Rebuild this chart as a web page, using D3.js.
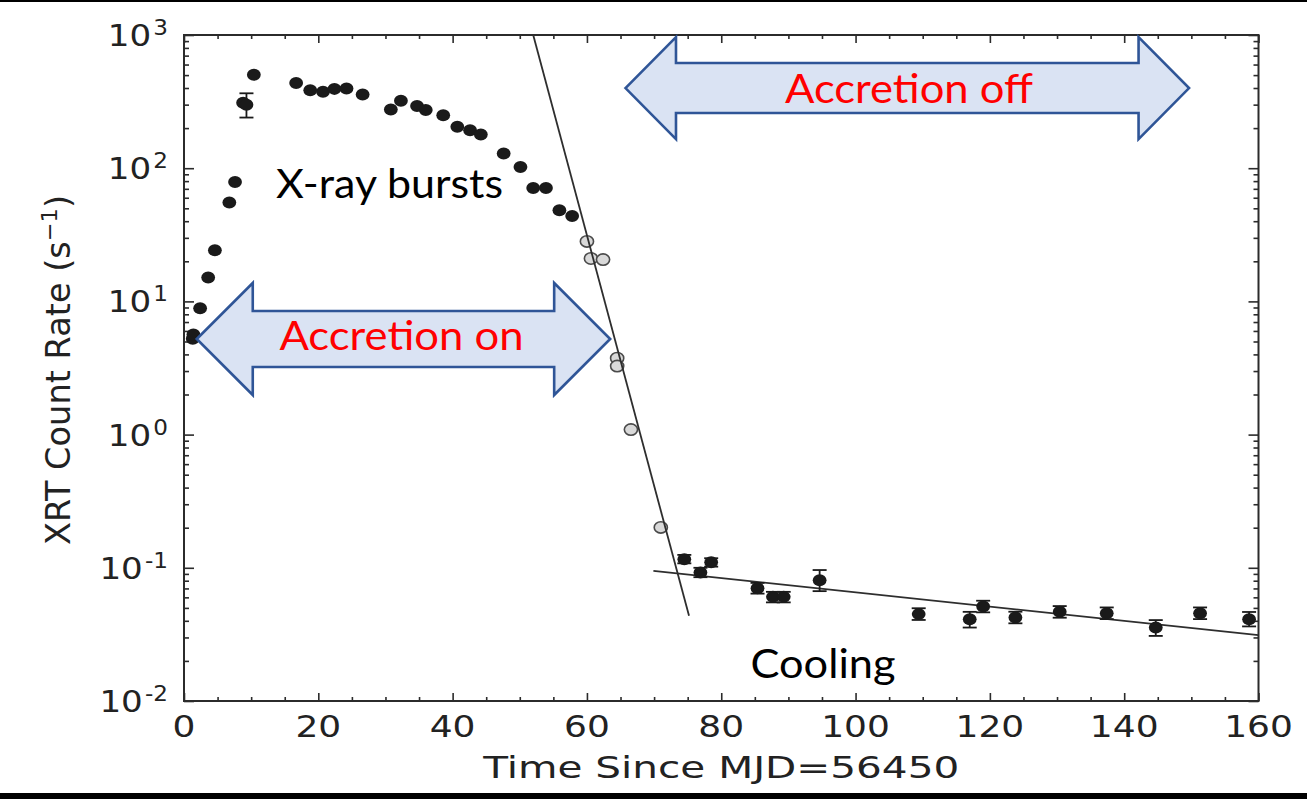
<!DOCTYPE html>
<html>
<head>
<meta charset="utf-8">
<script src="https://cdn.jsdelivr.net/npm/d3@7"></script>
<style>
  body { margin: 0; background: #fff; }
  svg { display: block; }
</style>
</head>
<body>
<svg id="chart" width="1307" height="799"></svg>
<script>
// ---- Swift/XRT light curve (count rate vs. days since MJD 56450) ----

// outburst, accretion phase (filled markers)
const burstTime = [1.3, 1.4, 2.4, 3.6, 4.6, 6.75, 7.6, 8.8, 9.3, 10.4, 16.7, 18.8, 20.7, 22.4, 24.2, 26.6,
                   30.8, 32.3, 34.7, 36.0, 38.6, 40.7, 42.6, 44.2, 47.6, 50.1, 52.0, 53.9, 55.9, 57.8];
const burstRate = [5.25, 5.65, 8.9, 15.1, 24.2, 55.2, 78.9, 310, 300, 503, 437, 385, 375, 394, 397, 358,
                   276, 321, 293, 273, 250, 205, 193, 179, 129, 102, 71.1, 71.1, 48.3, 43.8];
const burstErrLo = [null, null, null, null, null, null, null, null, 240, null, null, null, null, null, null, null,
                    null, null, null, null, null, null, null, null, null, null, null, null, null, null];
const burstErrHi = [null, null, null, null, null, null, null, null, 365, null, null, null, null, null, null, null,
                    null, null, null, null, null, null, null, null, null, null, null, null, null, null];

// rapid decay (open markers)
const decayTime = [60.0, 60.6, 62.4, 64.5, 64.5, 66.55, 71.0];
const decayRate = [28.2, 21.0, 20.6, 3.75, 3.27, 1.09, 0.201];

// quiescent cooling tail (filled markers with error bars)
const coolTime  = [74.5, 76.9, 78.5, 85.4, 87.7, 89.3, 94.65, 109.4, 117.0, 119.0, 123.8, 130.4, 137.4, 144.7, 151.3, 158.6];
const coolRate  = [0.116, 0.0923, 0.110, 0.0703, 0.0605, 0.0605, 0.0807, 0.0449, 0.0411, 0.0512, 0.0423, 0.0467, 0.0456, 0.0356, 0.0456, 0.0411];
const coolErrLo = [0.108, 0.085, 0.102, 0.064, 0.055, 0.055, 0.0668, 0.0406, 0.0356, 0.0463, 0.0383, 0.0422, 0.0412, 0.0308, 0.0412, 0.0363];
const coolErrHi = [0.125, 0.100, 0.118, 0.077, 0.066, 0.066, 0.0962, 0.0497, 0.0467, 0.0566, 0.0468, 0.0516, 0.0504, 0.0405, 0.0504, 0.0466];

// exponential fits (straight lines in log space)
const decayFitTime = [52.0, 75.2];
const decayFitRate = [1000, 0.0436];
const coolFitTime  = [69.9, 160];
const coolFitRate  = [0.0948, 0.0312];

// axes
const xDomain = [0, 160];
const yDomain = [0.01, 1000];
const xMajorTicks = [0, 20, 40, 60, 80, 100, 120, 140, 160];
const yDecadeExponents = [-2, -1, 0, 1, 2, 3];

// annotation arrows: [start day, end day, rate at centre line]
const accretionOn  = { label: "Accretion on",  t0: 1.9,  t1: 63.46, rate: 5.22 };
const accretionOff = { label: "Accretion off", t0: 65.74, t1: 149.66, rate: 399.6 };

// ------------------------------------------------------------------
const svg = d3.select("#chart");
const W = 1307, H = 799;
const plot = { left: 184, right: 1258.5, top: 35, bottom: 701 };

const x = d3.scaleLinear().domain(xDomain).range([plot.left, plot.right]);
const y = d3.scaleLog().domain(yDomain).range([plot.bottom, plot.top]);

const axisColor = "#2b2b2b";
const tickFont = "'DejaVu Sans', 'Bitstream Vera Sans', sans-serif";
const noteFont = "Lato, 'Open Sans', sans-serif";

svg.append("rect").attr("width", W).attr("height", H).attr("fill", "#fff");

// page rules at top and bottom
svg.append("rect").attr("x", 0).attr("y", 0).attr("width", W).attr("height", 2).attr("fill", "#000");
svg.append("rect").attr("x", 0).attr("y", 793).attr("width", W).attr("height", 6).attr("fill", "#000");

// ---- ticks (inward, on all four sides) ----
const xMinor = d3.range(0, 161, 5).filter(v => v % 20 !== 0);
const yMinor = [];
yDecadeExponents.slice(0, -1).forEach(e => { for (let k = 2; k <= 9; k++) yMinor.push(k * Math.pow(10, e)); });
const yMajor = yDecadeExponents.map(e => Math.pow(10, e));

function noLabels(a) { return a.tickFormat(() => "").tickPadding(0); }

const axes = svg.append("g").attr("class", "axes");
axes.append("g").attr("transform", `translate(0,${plot.bottom})`).call(noLabels(d3.axisBottom(x).tickValues(xMinor).tickSize(-4)));
axes.append("g").attr("transform", `translate(0,${plot.bottom})`).call(noLabels(d3.axisBottom(x).tickValues(xMajorTicks).tickSize(-8)));
axes.append("g").attr("transform", `translate(0,${plot.top})`).call(noLabels(d3.axisTop(x).tickValues(xMinor).tickSize(-4)));
axes.append("g").attr("transform", `translate(0,${plot.top})`).call(noLabels(d3.axisTop(x).tickValues(xMajorTicks).tickSize(-8)));
axes.append("g").attr("transform", `translate(${plot.left},0)`).call(noLabels(d3.axisLeft(y).tickValues(yMinor).tickSize(-5)));
axes.append("g").attr("transform", `translate(${plot.left},0)`).call(noLabels(d3.axisLeft(y).tickValues(yMajor).tickSize(-10)));
axes.append("g").attr("transform", `translate(${plot.right},0)`).call(noLabels(d3.axisRight(y).tickValues(yMinor).tickSize(-5)));
axes.append("g").attr("transform", `translate(${plot.right},0)`).call(noLabels(d3.axisRight(y).tickValues(yMajor).tickSize(-10)));
axes.selectAll(".domain").remove();
axes.selectAll(".tick line").attr("stroke", axisColor).attr("stroke-width", 1.6);

// frame
svg.append("rect")
  .attr("x", plot.left).attr("y", plot.top)
  .attr("width", plot.right - plot.left).attr("height", plot.bottom - plot.top)
  .attr("fill", "none").attr("stroke", axisColor).attr("stroke-width", 2);

// x tick labels
svg.append("g").selectAll("text").data(xMajorTicks).join("text")
  .attr("transform", d => `translate(${x(d)},737) scale(1.2,1)`)
  .attr("text-anchor", "middle")
  .attr("font-family", tickFont).attr("font-size", 30).attr("fill", "#222")
  .text(d => d);

// y tick labels: 10^n
const yl = svg.append("g").selectAll("text").data(yDecadeExponents).join("text")
  .attr("transform", d => `translate(168,${y(Math.pow(10, d)) + 11}) scale(1.1,1)`)
  .attr("text-anchor", "end")
  .attr("font-family", tickFont).attr("font-size", 31).attr("fill", "#222");
yl.append("tspan").text("10");
yl.append("tspan").attr("dy", -11).attr("dx", 2).attr("font-size", 21).text(d => d);

// axis titles
svg.append("text")
  .attr("x", (plot.left + plot.right) / 2).attr("y", 778)
  .attr("text-anchor", "middle")
  .attr("font-family", tickFont).attr("font-size", 31).attr("fill", "#222")
  .attr("textLength", 476).attr("lengthAdjust", "spacingAndGlyphs")
  .text("Time Since MJD=56450");

const yt = svg.append("text")
  .attr("transform", "translate(70,370) rotate(-90)")
  .attr("text-anchor", "middle")
  .attr("font-family", tickFont).attr("font-size", 33).attr("fill", "#222")
  .attr("textLength", 350).attr("lengthAdjust", "spacingAndGlyphs");
yt.append("tspan").text("XRT Count Rate (s");
yt.append("tspan").attr("dy", -13).attr("font-size", 22).text("\u22121");
yt.append("tspan").attr("dy", 13).text(")");

// ---- fits ----
const line = d3.line().x(d => x(d[0])).y(d => y(d[1]));
const decayFit = decayFitTime.map((t, i) => [t, decayFitRate[i]]);
const coolFit  = coolFitTime.map((t, i) => [t, coolFitRate[i]]);

// ---- data ----
const burst = burstTime.map((t, i) => ({ t, r: burstRate[i], lo: burstErrLo[i], hi: burstErrHi[i] }));
const decay = decayTime.map((t, i) => ({ t, r: decayRate[i] }));
const cool  = coolTime.map((t, i) => ({ t, r: coolRate[i], lo: coolErrLo[i], hi: coolErrHi[i] }));

// open markers first, so the fit line shows through them
svg.append("g").selectAll("ellipse").data(decay).join("ellipse")
  .attr("cx", d => x(d.t)).attr("cy", d => y(d.r))
  .attr("rx", 6.6).attr("ry", 5.7)
  .attr("fill", "#d9d9d9").attr("stroke", "#4a4a4a").attr("stroke-width", 1.6);

svg.append("g").selectAll("path").data([decayFit, coolFit]).join("path")
  .attr("d", line).attr("fill", "none").attr("stroke", "#2e2e2e").attr("stroke-width", 1.8);

// error bars
const withErr = burst.filter(d => d.lo != null).concat(cool);
const eb = svg.append("g").attr("stroke", "#1a1a1a").attr("stroke-width", 1.8);
eb.selectAll("line.v").data(withErr).join("line").attr("class", "v")
  .attr("x1", d => x(d.t)).attr("x2", d => x(d.t))
  .attr("y1", d => y(d.lo)).attr("y2", d => y(d.hi));
eb.selectAll("line.lo").data(withErr).join("line").attr("class", "lo")
  .attr("x1", d => x(d.t) - 7).attr("x2", d => x(d.t) + 7)
  .attr("y1", d => y(d.lo)).attr("y2", d => y(d.lo));
eb.selectAll("line.hi").data(withErr).join("line").attr("class", "hi")
  .attr("x1", d => x(d.t) - 7).attr("x2", d => x(d.t) + 7)
  .attr("y1", d => y(d.hi)).attr("y2", d => y(d.hi));

// filled markers
svg.append("g").selectAll("ellipse").data(burst.concat(cool)).join("ellipse")
  .attr("cx", d => x(d.t)).attr("cy", d => y(d.r))
  .attr("rx", 6.9).attr("ry", 6.0)
  .attr("fill", "#1a1a1a");

// ---- annotations ----
function doubleArrow(g, a, headLen, headHalf, shaftHalf) {
  const x0 = x(a.t0), x1 = x(a.t1), yc = y(a.rate);
  const p = d3.path();
  p.moveTo(x0, yc);
  p.lineTo(x0 + headLen, yc - headHalf);
  p.lineTo(x0 + headLen, yc - shaftHalf);
  p.lineTo(x1 - headLen, yc - shaftHalf);
  p.lineTo(x1 - headLen, yc - headHalf);
  p.lineTo(x1, yc);
  p.lineTo(x1 - headLen, yc + headHalf);
  p.lineTo(x1 - headLen, yc + shaftHalf);
  p.lineTo(x0 + headLen, yc + shaftHalf);
  p.lineTo(x0 + headLen, yc + headHalf);
  p.closePath();
  g.append("path").attr("d", p.toString())
    .attr("fill", "#dae3f3").attr("stroke", "#2f5597").attr("stroke-width", 2.6)
    .attr("stroke-linejoin", "miter");
}

const notes = svg.append("g");
doubleArrow(notes, accretionOn, 56, 56, 28);
doubleArrow(notes, accretionOff, 50.5, 51, 25);

function note(txt, cx, baseline, width, color) {
  notes.append("text")
    .attr("x", cx).attr("y", baseline)
    .attr("text-anchor", "middle")
    .attr("font-family", noteFont).attr("font-size", 40).attr("fill", color)
    .attr("textLength", width).attr("lengthAdjust", "spacingAndGlyphs")
    .text(txt);
}
note(accretionOn.label, x((accretionOn.t0 + accretionOn.t1) / 2) - 2, 350, 244, "#ff0000");
note(accretionOff.label, 909, 103, 248, "#ff0000");
note("X-ray bursts", 389.5, 198, 227, "#000");
note("Cooling", 823, 678, 145, "#000");
</script>
</body>
</html>
